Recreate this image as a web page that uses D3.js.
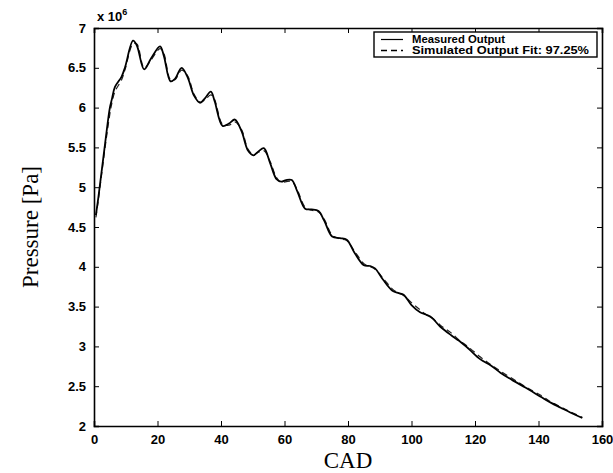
<!DOCTYPE html>
<html>
<head>
<meta charset="utf-8">
<script src="https://cdn.jsdelivr.net/npm/d3@7"></script>
<style>
  body { margin: 0; background: #fff; }
  svg { display: block; }
</style>
</head>
<body>
<div id="chart"></div>
<script>
// CAD values shared by both series
const cad = [0.6, 1.4, 3.5, 5.0, 5.6, 6.6, 8.7, 9.8, 12.3, 13.5, 15.8, 18.0, 20.8, 22.0, 24.1, 25.5,
  27.6, 29.5, 31.5, 33.4, 35.0, 36.8, 38.0, 40.5, 42.5, 44.4, 46.5, 48.5, 50.2, 51.8, 53.5, 55.5,
  57.5, 59.0, 60.5, 62.3, 64.0, 66.5, 68.5, 70.7, 72.5, 75.0, 77.5, 79.6, 82.0, 85.0, 87.0, 88.5,
  91.0, 94.0, 96.0, 97.5, 100.0, 102.7, 104.5, 106.4, 109.0, 112.5, 115.0, 118.0, 121.6, 125.0,
  128.0, 132.0, 136.0, 141.0, 144.0, 147.0, 150.0, 153.8];

// pressure in units of 1e6 Pa
const measured = [4.65, 4.88, 5.55, 6.00, 6.10, 6.26, 6.39, 6.51, 6.84, 6.78, 6.48, 6.62, 6.77, 6.65, 6.33, 6.36,
  6.50, 6.38, 6.15, 6.06, 6.12, 6.20, 6.08, 5.77, 5.80, 5.85, 5.70, 5.46, 5.40, 5.45, 5.49, 5.30,
  5.10, 5.07, 5.09, 5.09, 4.95, 4.73, 4.72, 4.70, 4.58, 4.38, 4.36, 4.34, 4.18, 4.02, 4.01, 3.98,
  3.84, 3.70, 3.67, 3.65, 3.52, 3.43, 3.40, 3.36, 3.25, 3.14, 3.07, 2.97, 2.84, 2.76,
  2.67, 2.57, 2.48, 2.36, 2.29, 2.23, 2.17, 2.10];

const simulated = [4.62, 4.85, 5.50, 5.92, 6.05, 6.20, 6.35, 6.48, 6.80, 6.80, 6.50, 6.60, 6.74, 6.68, 6.35, 6.35,
  6.47, 6.40, 6.17, 6.07, 6.10, 6.16, 6.10, 5.79, 5.78, 5.82, 5.72, 5.48, 5.41, 5.44, 5.46, 5.32,
  5.12, 5.06, 5.07, 5.07, 4.97, 4.75, 4.71, 4.69, 4.60, 4.40, 4.35, 4.33, 4.20, 4.04, 4.00, 3.97,
  3.86, 3.72, 3.67, 3.64, 3.55, 3.46, 3.40, 3.36, 3.27, 3.17, 3.08, 2.99, 2.87, 2.77,
  2.69, 2.59, 2.49, 2.38, 2.30, 2.24, 2.18, 2.11];

const xTicks = [0, 20, 40, 60, 80, 100, 120, 140, 160];
const yTicks = [2, 2.5, 3, 3.5, 4, 4.5, 5, 5.5, 6, 6.5, 7];
const legendLabels = ['Measured Output', 'Simulated Output Fit: 97.25%'];

const margin = { top: 28, right: 11, bottom: 47, left: 94 },
      width = 613 - margin.left - margin.right,
      height = 473 - margin.top - margin.bottom;

const svg = d3.select('#chart')
  .append('svg')
  .attr('width', 613)
  .attr('height', 473);

const g = svg.append('g')
  .attr('transform', `translate(${margin.left},${margin.top})`);

const x = d3.scaleLinear().domain([0, 160]).range([0, width]);
const y = d3.scaleLinear().domain([2, 7]).range([height, 0]);

const tickFont = '"Liberation Sans", Arial, sans-serif';

// axes with inward ticks (matlab style)
const xAxis = g.append('g')
  .attr('transform', `translate(0,${height})`)
  .call(d3.axisBottom(x).tickValues(xTicks).tickSize(-5).tickPadding(9).tickFormat(d3.format('d')));
const xTop = g.append('g')
  .call(d3.axisTop(x).tickValues(xTicks).tickSize(-5).tickFormat(''));
const yAxis = g.append('g')
  .call(d3.axisLeft(y).tickValues(yTicks).tickSize(-5).tickPadding(8).tickFormat(d3.format('~g')));
const yRight = g.append('g')
  .attr('transform', `translate(${width},0)`)
  .call(d3.axisRight(y).tickValues(yTicks).tickSize(-5).tickFormat(''));

[xAxis, xTop, yAxis, yRight].forEach(a => {
  a.select('.domain').attr('stroke', '#000').attr('stroke-width', 1.6);
  a.selectAll('.tick line').attr('stroke', '#000').attr('stroke-width', 1);
  a.selectAll('text')
    .attr('fill', '#000')
    .style('font-family', tickFont)
    .style('font-size', '13px')
    .style('font-weight', 'bold');
});

// exponent label
g.append('text')
  .attr('x', 3)
  .attr('y', -7)
  .style('font-family', tickFont)
  .style('font-size', '13px')
  .style('font-weight', 'bold')
  .text('x 10')
  .append('tspan')
  .attr('dy', -6)
  .style('font-size', '9px')
  .text('6');

const line = d3.line()
  .x(d => x(d[0]))
  .y(d => y(d[1]))
  .curve(d3.curveCatmullRom.alpha(0.5));

g.append('path')
  .datum(cad.map((c, i) => [c, simulated[i]]))
  .attr('fill', 'none')
  .attr('stroke', '#222')
  .attr('stroke-width', 1.2)
  .attr('stroke-dasharray', '6,4')
  .attr('d', line);

g.append('path')
  .datum(cad.map((c, i) => [c, measured[i]]))
  .attr('fill', 'none')
  .attr('stroke', '#000')
  .attr('stroke-width', 1.8)
  .attr('d', line);

// legend
const legend = svg.append('g').attr('transform', 'translate(374,32)');
legend.append('rect')
  .attr('width', 223)
  .attr('height', 25)
  .attr('fill', '#fff')
  .attr('stroke', '#000')
  .attr('stroke-width', 1.4);

const legendWidths = [93, 177];
legendLabels.forEach((label, i) => {
  const ly = 7.5 + i * 11;
  legend.append('line')
    .attr('x1', 7).attr('x2', 29)
    .attr('y1', ly).attr('y2', ly)
    .attr('stroke', '#000')
    .attr('stroke-width', i === 0 ? 1.2 : 1.4)
    .attr('stroke-dasharray', i === 0 ? null : '6,4');
  legend.append('text')
    .attr('x', 38)
    .attr('y', ly + 3.5)
    .attr('textLength', legendWidths[i])
    .attr('lengthAdjust', 'spacingAndGlyphs')
    .style('font-family', tickFont)
    .style('font-size', '10px')
    .style('font-weight', 'bold')
    .text(label);
});

// axis titles
svg.append('text')
  .attr('x', margin.left + width / 2)
  .attr('y', 468)
  .attr('text-anchor', 'middle')
  .style('font-family', '"Liberation Serif", "Times New Roman", serif')
  .style('font-size', '23px')
  .text('CAD');

svg.append('text')
  .attr('transform', 'rotate(-90)')
  .attr('x', -227)
  .attr('y', 38)
  .attr('text-anchor', 'middle')
  .style('font-family', '"Liberation Serif", "Times New Roman", serif')
  .style('font-size', '23px')
  .text('Pressure [Pa]');
</script>
</body>
</html>
